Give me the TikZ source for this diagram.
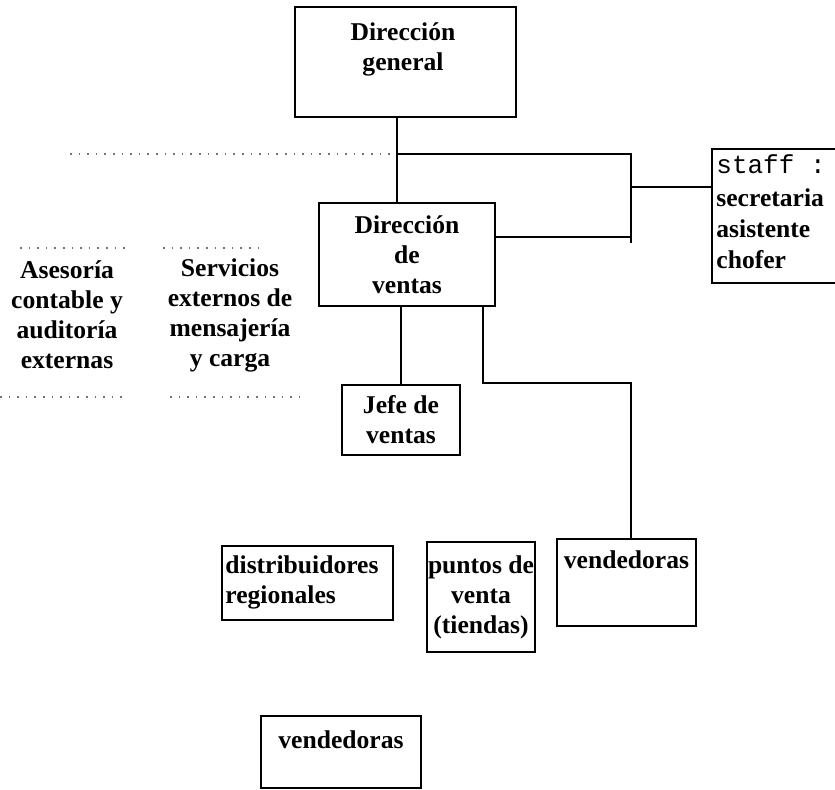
\documentclass[tikz,border=0pt]{standalone}
\usepackage{fontspec}
\setmainfont{Liberation Serif}
\setmonofont{Liberation Mono}
\begin{document}
\begin{tikzpicture}[x=0.5pt, y=-0.5pt,
    box/.style={draw, line width=1pt, inner sep=0pt},
    lbl/.style={font=\fontsize{12.8}{15}\selectfont\bfseries, align=center, inner sep=0pt},
    link/.style={line width=0.8pt},
    ext/.style={line width=0.6pt, black!55, dash pattern=on 0.8pt off 3.5pt}]

        \clip (0,0) rectangle (835,789);

        % --- Boxes ---
        \node[box, minimum width=110.5pt, minimum height=55pt] (dg) at (405.5,62) {};
        \node[lbl, anchor=north] (dgt) at (403,22) {Dirección\\general};

        \node[box, lbl, minimum width=88pt, minimum height=51.5pt] (dv) at (407,254.5) {Dirección\\de\\ventas};

        % staff box runs past the right border
        \node[box, minimum width=74pt, minimum height=67pt] (staff) at (786,216) {};
        \node[lbl, align=left, anchor=north west, font=\fontsize{12.8}{15.5}\selectfont\bfseries] (stt) at (716,154)
            {{\fontsize{13}{15}\selectfont\ttfamily\mdseries staff :}\\[1pt]secretaria\\asistente\\chofer};

        \node[box, lbl, minimum width=59pt, minimum height=35pt] (jf) at (401,420) {Jefe de\\ventas};

        \node[box, minimum width=85.5pt, minimum height=37pt] (dr) at (307.5,583) {};
        \node[lbl, align=left, anchor=west] (drt) at (225,582) {distribuidores\\regionales};

        \node[box, lbl, minimum width=54pt, minimum height=55pt] (pv) at (481,597) {puntos de\\venta\\(tiendas)};

        \node[box, minimum width=69.5pt, minimum height=43.5pt] (vd) at (626.5,582.5) {};
        \node[lbl, anchor=north] (vdt) at (626.5,550) {vendedoras};

        \node[box, minimum width=80pt, minimum height=36pt] (vb) at (341,752) {};
        \node[lbl, anchor=north] (vbt) at (341,730) {vendedoras};

        % --- External services (no box) ---
        \node[lbl] (ase) at (67,315) {Asesoría\\contable y\\auditoría\\externas};
        \node[lbl] (ser) at (230,315) {Servicios\\externos de\\mensajería\\y carga};

        \draw[ext] (70,154) -- (397,154);
        \draw[ext] (20,248) -- (125,248);
        \draw[ext] (163,248) -- (258,248);
        \draw[ext] (0,397) -- (125,397);
        \draw[ext] (170,397) -- (300,397);

        % --- Connectors ---
        \coordinate (jn) at (397,154);
        \coordinate (st1) at (631,154);
        \coordinate (st2) at (631,243);
        \coordinate (sr) at (631,187);
        \coordinate (dvr) at (631,237);
        \coordinate (vk) at (483,383);
        \coordinate (vk2) at (631,383);

        \draw[link] (dg.south -| jn) -- (dv.north -| jn);
        \draw[link] (jn) -- (st1) -- (st2);
        \draw[link] (dvr -| dv.east) -- (dvr);
        \draw[link] (sr) -- (sr -| staff.west);
        \draw[link] (jf.north) -- (jf.north |- dv.south);
        \draw[link] (dv.south -| vk) -- (vk) -- (vk2) -- (vk2 |- vd.north);
\end{tikzpicture}
\end{document}
